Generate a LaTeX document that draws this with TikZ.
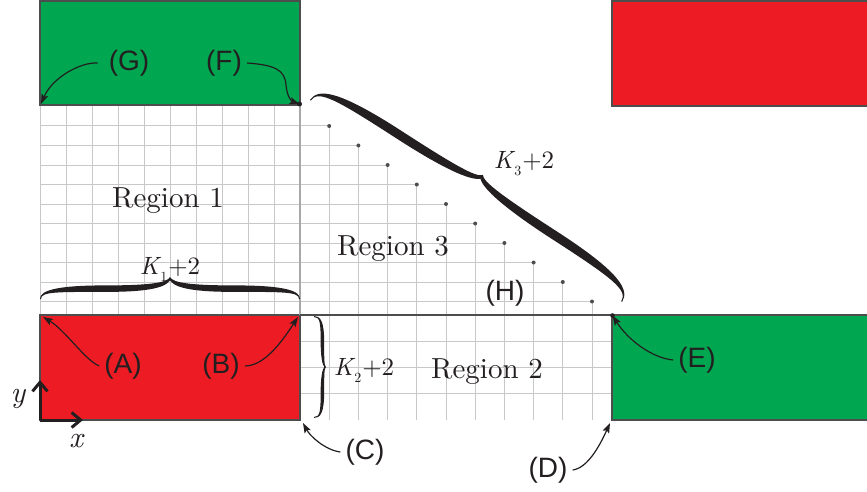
\documentclass[tikz,border=0pt]{standalone}
\usepackage{fontspec}
\newfontfamily\lsans{Liberation Sans}
\newfontfamily\gar{lmroman10-regular}[Extension=.otf,ItalicFont=lmroman10-italic]
\usetikzlibrary{arrows.meta}
\definecolor{myred}{HTML}{ED1C24}
\definecolor{mygreen}{HTML}{00A650}
\definecolor{edgegray}{HTML}{4D4D4D}
\definecolor{gridgray}{HTML}{C8C8C8}
\definecolor{sepgray}{HTML}{A8A8A8}
\definecolor{ink}{HTML}{231F20}
\newcommand\Klab[1]{\textit{K}\kern-1pt\raisebox{-0.3em}{\fontsize{14}{14}\selectfont #1}\kern1pt+2}
% calligraphic brace: #1 transform, #2 length, #3 amplitude, #4 thickness, #5 flat fraction
\newcommand\calbrace[5]{%
\begin{scope}[#1,yscale=-1]
\pgfmathsetmacro\cbL{#2}\pgfmathsetmacro\cbA{#3}\pgfmathsetmacro\cbT{#4}%
\pgfmathsetmacro\cbF{#5*#3}\pgfmathsetmacro\cbHi{\cbF+\cbT/2}\pgfmathsetmacro\cbLo{\cbF-\cbT/2}%
\pgfmathsetmacro\cbM{\cbF+0.5*(\cbA-\cbF)}%
\fill[ink] (0,0) .. controls (0,{0.75*\cbF}) and ({0.05*\cbL},\cbHi) .. ({0.25*\cbL},\cbHi)
 .. controls ({0.42*\cbL},\cbHi) and ({0.49*\cbL},\cbM) .. ({0.5*\cbL},\cbA)
 .. controls ({0.51*\cbL},\cbM) and ({0.58*\cbL},\cbHi) .. ({0.75*\cbL},\cbHi)
 .. controls ({0.95*\cbL},\cbHi) and (\cbL,{0.75*\cbF}) .. (\cbL,0)
 -- ({\cbL-1},0) .. controls ({\cbL-1},{0.7*\cbF}) and ({0.94*\cbL},\cbLo) .. ({0.75*\cbL},\cbLo)
 .. controls ({0.6*\cbL},\cbLo) and ({0.52*\cbL},\cbF) .. ({0.5*\cbL},{\cbA-0.5*\cbT})
 .. controls ({0.48*\cbL},\cbF) and ({0.4*\cbL},\cbLo) .. ({0.25*\cbL},\cbLo)
 .. controls ({0.06*\cbL},\cbLo) and (1,{0.7*\cbF}) .. (1,0) -- cycle;
\end{scope}}
\begin{document}
\begin{tikzpicture}[x=1pt,y=-1pt,
  gridln/.style={draw=gridgray,line width=1pt},
  boxln/.style={draw=edgegray,line width=1.5pt},
  arr/.style={draw=ink,line width=1.2pt,-{Stealth[length=10pt,width=7pt,inset=2pt]}},
  axisln/.style={draw=ink,line width=3pt,-{Straight Barb[length=9pt,width=15pt]}},
  lab/.style={font={\fontsize{28}{30}\selectfont\lsans},text=ink,inner xsep=5pt,inner ysep=0pt},
  regionlab/.style={font={\fontsize{29}{32}\selectfont\gar},text=ink,anchor=base,inner sep=0pt},
  klab/.style={font={\fontsize{25}{28}\selectfont\gar},text=ink,anchor=base,inner sep=0pt},
  axlab/.style={font={\fontsize{30}{32}\selectfont\gar\itshape},text=ink,anchor=base,inner sep=0pt}]
\useasboundingbox (0,0) rectangle (867,492);
\clip (0,0) rectangle (867,492);
% grid region 1
\foreach \i in {0,...,10} \draw[gridln] ({40+26*\i},105) -- ({40+26*\i},315);
% rows of region 1 extended into staircase of region 3
\foreach \k in {1,...,10} {
  \draw[gridln] (40,{106.5+19.5*\k}) -- ({300+29.2*\k},{106.5+19.5*\k});
  \draw[gridln] ({300+29.2*\k},{106.5+19.5*\k}) -- ({300+29.2*\k},420);
}
% rows of region 2
\foreach \j in {1,2,3} \draw[gridln] (300,{315+26.25*\j}) -- (612,{315+26.25*\j});
% boxes
\draw[boxln,fill=mygreen] (40,1) rectangle (300,105);
\draw[boxln,fill=myred] (40,315) rectangle (300,420);
\draw[boxln,fill=myred] (612,1) rectangle (880,106);
\draw[boxln,fill=mygreen] (612,315) rectangle (880,420);
% separators
\draw[draw=sepgray,line width=2pt] (300,105) -- (300,315);
\draw[draw=edgegray,line width=2.5pt] (300,315) -- (612,315);
% staircase dots
\foreach \k in {1,...,10} \fill[edgegray] ({300+29.2*\k},{106.5+19.5*\k}) circle (2);
% named points
\coordinate (ptG) at (41,104);
\coordinate (ptF) at (299.5,104);
\coordinate (ptA) at (43,317);
\coordinate (ptB) at (298,317);
\coordinate (ptC) at (303,423);
\coordinate (ptD) at (610,423);
\coordinate (ptE) at (612.5,315.5);
\coordinate (orig) at (40,420);
\coordinate (yend) at (40,380);
\coordinate (xend) at (83,420);
\fill[ink] (ptF) circle (2.5);
\fill[ink] (ptE) circle (2.3);
% braces
\calbrace{shift={(40,299)}}{260}{22}{6.5}{0.47}
\calbrace{shift={(314,316)},rotate=-90}{102}{12}{3.5}{0.7}
\calbrace{shift={(310,100)},rotate=-32.9}{371.7}{31}{9}{0.62}
% texts
\node[regionlab] (r1) at (168,207) {Region 1};
\node[regionlab] (r3) at (393,255.5) {Region 3};
\node[regionlab] (r2) at (487,378) {Region 2};
\node[klab] (k1) at (170,274) {\Klab{1}};
\node[klab] (k2) at (364,375) {\Klab{2}};
\node[klab] (k3) at (524,168) {\Klab{3}};
\node[axlab] (ylab) at (18,402) {y};
\node[axlab] (xlab) at (76,447) {x};
% axes
\draw[axisln] (orig) -- (yend);
\draw[axisln] (orig) -- (xend);
% labels and arrows
\node[lab] (labG) at (129,63) {(G)};
\node[lab] (labF) at (224,63) {(F)};
\node[lab] (labA) at (123,366) {(A)};
\node[lab] (labB) at (221,366) {(B)};
\node[lab] (labC) at (365,452) {(C)};
\node[lab] (labD) at (548,470) {(D)};
\node[lab] (labE) at (697,360) {(E)};
\node[lab] (labH) at (505,293) {(H)};
\draw[arr] ([xshift=-6pt]labG.west) .. controls (80,62) and (52,78) .. (ptG);
\draw[arr] (labF.east) .. controls (275,65) and (285,70) .. (286,85) .. controls (287,96) and (291,101) .. (ptF);
\draw[arr] (labA.west) .. controls (85,360) and (65,330) .. (ptA);
\draw[arr] (labB.east) .. controls (265,366) and (283,340) .. (ptB);
\draw[arr] (labC.west) .. controls (325,450) and (310,436) .. (ptC);
\draw[arr] (labD.east) .. controls (588,468) and (600,445) .. (ptD);
\draw[arr] (labE.west) .. controls (652,358) and (628,340) .. (ptE);
\end{tikzpicture}
\end{document}
